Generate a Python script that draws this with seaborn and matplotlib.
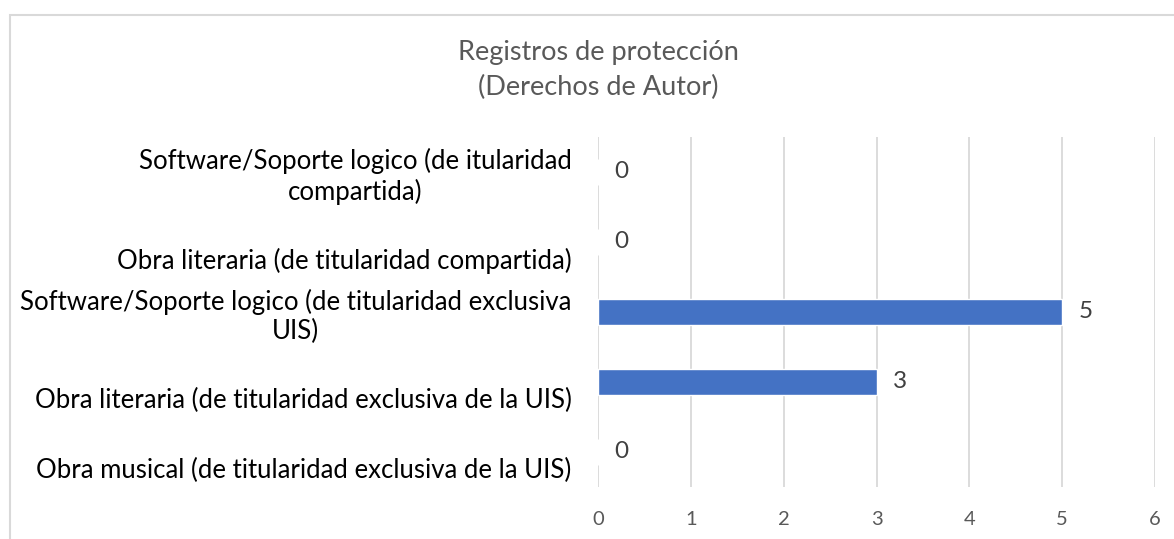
import matplotlib
matplotlib.use('Agg')
import matplotlib.pyplot as plt
import matplotlib.transforms as mtransforms
import seaborn as sns
import pandas as pd
from matplotlib.patches import Rectangle

# Data
categorias = [
    'Software/Soporte logico (de itularidad\ncompartida)',
    'Obra literaria (de titularidad compartida)',
    'Software/Soporte logico (de titularidad exclusiva\nUIS)',
    'Obra literaria (de titularidad exclusiva de la UIS)',
    'Obra musical (de titularidad exclusiva de la UIS)',
]
registros = [0, 0, 5, 3, 0]
ticks_x = [0, 1, 2, 3, 4, 5, 6]

df = pd.DataFrame({'categoria': categorias, 'registros': registros})

sns.set_style('white')
plt.rcParams['font.family'] = ['Lato', 'DejaVu Sans']

fig = plt.figure(figsize=(11.74, 5.39), dpi=100)
ax = fig.add_axes([598 / 1174, 1 - 487 / 539, 557 / 1174, 350 / 539])

sns.barplot(data=df, y='categoria', x='registros', orient='h',
            color='#4472C4', width=0.36, saturation=1, ax=ax)

ax.set_xlim(0, 6)
ax.set_xticks(ticks_x)
ax.set_xlabel('')
ax.set_ylabel('')
ax.grid(axis='x', color='#d9d9d9', linewidth=1.3)
ax.set_axisbelow(True)
for s in ax.spines.values():
    s.set_visible(False)

ax.tick_params(axis='x', length=0, pad=17, labelsize=14.5, labelcolor='#595959')
ax.tick_params(axis='y', length=0, pad=19, labelsize=18.5, labelcolor='black')
# Excel pushes single-line labels a bit lower than wrapped ones
shift = mtransforms.ScaledTranslation(0, -16 / 100, fig.dpi_scale_trans)
for lbl in ax.get_yticklabels():
    lbl.set_multialignment('center')
    if '\n' not in lbl.get_text():
        lbl.set_transform(lbl.get_transform() + shift)

ax.bar_label(ax.containers[0], labels=[str(v) for v in registros],
             padding=12, fontsize=17.5, color='#404040')

fig.text(598 / 1174, 1 - 70 / 539, 'Registros de protección\n(Derechos de Autor)',
         ha='center', va='center', fontsize=19.5, color='#595959', linespacing=1.45)

# chart area border (cropped on right and bottom)
fig.patches.append(Rectangle((10 / 1174, -0.1), 1.2, 1.1 - 15 / 539,
                             transform=fig.transFigure, fill=False,
                             edgecolor='#d9d9d9', linewidth=1.5))

fig.savefig('out.png', dpi=100)
